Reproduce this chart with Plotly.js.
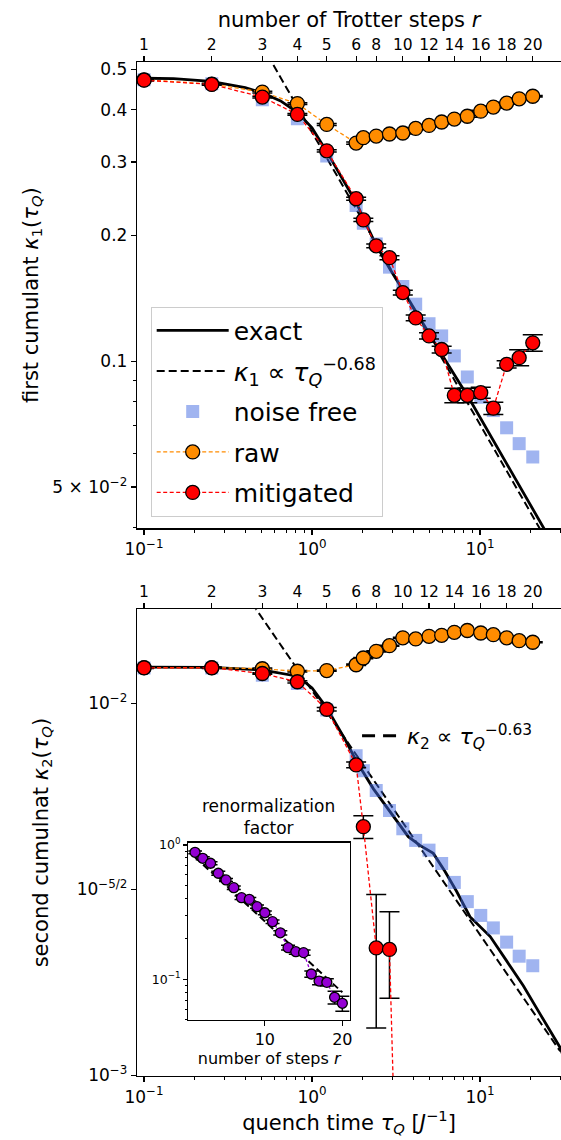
<!DOCTYPE html>
<html>
<head>
<meta charset="utf-8">
<script src="https://cdn.plot.ly/plotly-3.0.1.min.js"></script>
<style>html,body{margin:0;padding:0;background:#fff;overflow:hidden;}#chart{width:561px;height:1140px;}</style>
</head>
<body>
<div id="chart"></div>
<script>
// ---------- data ----------
const rSteps = [1,2,3,4,5,6,7,8,9,10,11,12,13,14,15,16,17,18,19,20];
const tauSteps = [0.1,0.253,0.506,0.818,1.223,1.83,2.02,2.41,2.89,3.47,4.14,4.97,5.91,7.03,8.40,10.1,12.0,14.4,17.1,20.6];
const rTickLabels = [1,2,3,4,5,6,8,10,12,14,16,18,20];

const k1Raw = [0.472,0.461,0.441,0.414,0.369,0.333,0.343,0.346,0.350,0.352,0.361,0.367,0.374,0.380,0.386,0.397,0.406,0.415,0.425,0.431];
const k1RawErr = [0.002,0.002,0.002,0.002,0.002,0.002,0.002,0.002,0.002,0.002,0.002,0.002,0.002,0.002,0.002,0.002,0.002,0.002,0.002,0.002];
const k1Mit = [0.471,0.460,0.429,0.390,0.319,0.245,0.218,0.189,0.177,0.146,0.127,0.115,0.1067,0.0829,0.0829,0.0841,0.0772,0.0983,0.102,0.1107];
const k1MitErr = [0.002,0.002,0.002,0.002,0.002,0.002,0.002,0.002,0.002,0.002,0.002,0.002,0.002,0.0033,0.0033,0.0025,0.0026,0.002,0.0045,0.005];
const k1Free = [0.472,0.462,0.423,0.381,0.310,0.236,0.214,0.191,0.168,0.151,0.137,0.123,0.115,0.103,0.0917,0.082,0.0762,0.0693,0.0635,0.059];
const exactTau1 = [0.1,0.15,0.25,0.4,0.5,0.65,0.82,1.0,1.22,1.5,1.83,2.4,2.89,3.78,5.7,8.72,12.97,19.2,24.0,28];
const exactK1 = [0.476,0.475,0.468,0.452,0.440,0.420,0.394,0.362,0.318,0.276,0.240,0.190,0.167,0.140,0.1064,0.0808,0.0613,0.0466,0.0398,0.0350];
const fitTau1 = [0.5,30];
const fitK1 = [0.574,0.0327];

const k2Raw = [0.01248,0.01248,0.01239,0.0122,0.01225,0.0127,0.01324,0.0138,0.01429,0.0150,0.0149,0.01514,0.01524,0.01552,0.0157,0.01546,0.0153,0.0150,0.01474,0.0146];
const k2RawErr = [0.00005,0.00005,0.00005,0.00005,0.00005,0.00005,0.00005,0.00005,0.00005,0.00005,0.00005,0.00005,0.00005,0.00005,0.00005,0.00005,0.00005,0.00005,0.00005,0.00005];
const k2Mit = [0.01246,0.01246,0.01203,0.01143,0.00964,0.00683,0.00466,0.0022,0.00218,0.00011];
const k2MitErr = [0.00005,0.00005,0.00005,0.00008,0.0001,0.00012,0.00033,0.00086,0.00057,0];
const k2Free = [0.01245,0.01245,0.0119,0.0113,0.0096,0.00723,0.00659,0.00583,0.00515,0.0046,0.00428,0.00403,0.00371,0.0033,0.00293,0.00269,0.00249,0.00228,0.00209,0.00197];
const exactTau2 = [0.1,0.25,0.5,0.82,1.0,1.22,1.57,1.83,2.32,3.12,3.74,4.39,5.27,6.19,7.26,8.71,11.5,14.4,18.1,22.8,29.9,31];
const exactK2 = [0.01252,0.01250,0.01230,0.01183,0.0110,0.00974,0.00801,0.00701,0.00589,0.0049,0.00438,0.00415,0.00395,0.00353,0.00312,0.00267,0.00236,0.00203,0.00174,0.00146,0.00119,0.00114];
const fitTau2 = [0.4,30];
const fitK2 = [0.01976,0.00116];

const renorm = [0.882,0.796,0.731,0.616,0.549,0.481,0.405,0.394,0.3475,0.313,0.2685,0.222,0.172,0.1605,0.158,0.1095,0.0971,0.095,0.0735,0.0663];
const renormErr = [0.02,0.02,0.02,0.02,0.015,0.015,0.012,0.012,0.01,0.01,0.008,0.008,0.007,0.007,0.007,0.006,0.006,0.006,0.008,0.0085];
const renormFitR = [1,20];
const renormFitY = [0.81,0.080];

// ---------- styling ----------
const FONT = 'DejaVu Sans, Liberation Sans, sans-serif';
const ORANGE = '#ff8c00', RED = '#ff0000', PURPLE = '#9400d3', BLUE = 'rgba(65,105,225,0.5)';
const tauTicks = rTickLabels.map(r => tauSteps[rSteps.indexOf(r)]);

function errBar(arr, w) {
  return {type:'data', array:arr, visible:true, color:'black', thickness:1.5, width:w};
}
const mk = (c, s) => ({color:c, size:s, line:{color:'black', width:1.3}});

const traces = [
  // top panel
  {x:exactTau1, y:exactK1, xaxis:'x', yaxis:'y', mode:'lines', name:'exact',
   line:{color:'black', width:2.8}, legendgroup:'a'},
  {x:fitTau1, y:fitK1, xaxis:'x', yaxis:'y', mode:'lines', name:'<i>κ</i><sub>1</sub> ∝ <i>τ</i><sub><i>Q</i></sub><sup>−0.68</sup>',
   line:{color:'black', width:2, dash:'8px,4px'}, legendgroup:'b'},
  {x:tauSteps, y:k1Free, xaxis:'x', yaxis:'y', mode:'markers', name:'noise free',
   marker:{symbol:'square', color:BLUE, size:13, line:{width:0}}, legendgroup:'c'},
  {x:tauSteps, y:k1Raw, xaxis:'x', yaxis:'y', mode:'lines+markers', name:'raw',
   line:{color:ORANGE, width:1.3, dash:'4px,2.5px'}, marker:mk(ORANGE,14), error_y:errBar(k1RawErr,10), legendgroup:'d'},
  {x:tauSteps, y:k1Mit, xaxis:'x', yaxis:'y', mode:'lines+markers', name:'mitigated',
   line:{color:RED, width:1.3, dash:'4px,2.5px'}, marker:mk(RED,14), error_y:errBar(k1MitErr,10), legendgroup:'e'},
  {x:tauSteps, y:k1Raw, xaxis:'x3', yaxis:'y', mode:'markers', marker:{opacity:0}, hoverinfo:'skip', showlegend:false},

  // bottom panel
  {x:exactTau2, y:exactK2, xaxis:'x2', yaxis:'y2', mode:'lines', showlegend:false,
   line:{color:'black', width:2.8}},
  {x:fitTau2, y:fitK2, xaxis:'x2', yaxis:'y2', mode:'lines', showlegend:false,
   line:{color:'black', width:2, dash:'8px,4px'}},
  {x:tauSteps, y:k2Free, xaxis:'x2', yaxis:'y2', mode:'markers', showlegend:false,
   marker:{symbol:'square', color:BLUE, size:13, line:{width:0}}},
  {x:tauSteps, y:k2Raw, xaxis:'x2', yaxis:'y2', mode:'lines+markers', showlegend:false,
   line:{color:ORANGE, width:1.3, dash:'4px,2.5px'}, marker:mk(ORANGE,14), error_y:errBar(k2RawErr,10)},
  {x:tauSteps.slice(0, k2Mit.length), y:k2Mit, xaxis:'x2', yaxis:'y2', mode:'lines+markers', showlegend:false,
   line:{color:RED, width:1.3, dash:'4px,2.5px'}, marker:mk(RED,14), error_y:errBar(k2MitErr,10)},
  {x:tauSteps, y:k2Raw, xaxis:'x4', yaxis:'y2', mode:'markers', marker:{opacity:0}, hoverinfo:'skip', showlegend:false},
  // legend entry of the kappa2 fit (bottom panel)
  {x:[null], y:[null], xaxis:'x2', yaxis:'y2', mode:'lines', legend:'legend2',
   name:'<i>κ</i><sub>2</sub> ∝ <i>τ</i><sub><i>Q</i></sub><sup>−0.63</sup>',
   line:{color:'black', width:3, dash:'13px,8px'}},

  // inset
  {x:renormFitR, y:renormFitY, xaxis:'x5', yaxis:'y5', mode:'lines', showlegend:false,
   line:{color:'black', width:2, dash:'7px,4px'}},
  {x:rSteps, y:renorm, xaxis:'x5', yaxis:'y5', mode:'lines+markers', showlegend:false,
   line:{color:PURPLE, width:1.3, dash:'3px,2.5px'}, marker:mk(PURPLE,10), error_y:errBar(renormErr,7)}
];

const tickFont = {family:FONT, size:17, color:'black'};
const titleFont = {family:FONT, size:21, color:'black'};
const baseAx = {showline:true, linecolor:'black', linewidth:1.2, ticks:'outside', ticklen:5, tickwidth:1.2,
  tickcolor:'black', showgrid:false, zeroline:false, tickfont:tickFont, automargin:false};
const minorLog = {ticks:'outside', ticklen:3, tickwidth:1, tickcolor:'black', dtick:'D1', showgrid:false};
const xRange = [-1.042, 1.482];
const xDecTicks = {tickmode:'array', tickvals:[0.1,1,10], ticktext:['10<sup>−1</sup>','10<sup>0</sup>','10<sup>1</sup>']};
const rAxis = (over, anch, withTitle) => Object.assign({}, baseAx, {
  overlaying:over, anchor:anch, side:'top', type:'log', range:xRange,
  tickmode:'array', tickvals:tauTicks, ticktext:rTickLabels.map(String),
  tickfont:{family:FONT, size:15.5, color:'black'},
  title: withTitle ? {text:'number of Trotter steps <i>r</i>', font:titleFont, standoff:2} : {text:''}
});

const layout = {
  width:561, height:1140,
  margin:{l:137, r:0, t:62, b:64, autoexpand:false},
  paper_bgcolor:'white', plot_bgcolor:'white',
  font:{family:FONT, color:'black'},
  xaxis: Object.assign({}, baseAx, xDecTicks, {domain:[0,1], anchor:'y', type:'log', range:xRange, minor:minorLog}),
  yaxis: Object.assign({}, baseAx, {domain:[0.5401,1], anchor:'x', type:'log', range:[-1.400,-0.2835],
    tickmode:'array', tickvals:[0.05,0.1,0.2,0.3,0.4,0.5],
    ticktext:['5 × 10<sup>−2</sup>','0.1','0.2','0.3','0.4','0.5'], minor:minorLog,
    title:{text:'first cumulant <i>κ</i><sub>1</sub>(<i>τ</i><sub><i>Q</i></sub>)', font:titleFont, standoff:8}}),
  xaxis3: rAxis('x','y',true),
  xaxis2: Object.assign({}, baseAx, xDecTicks, {domain:[0,1], anchor:'y2', type:'log', range:xRange, minor:minorLog,
    title:{text:'quench time <i>τ</i><sub><i>Q</i></sub> [<i>J</i><sup>−1</sup>]', font:titleFont, standoff:9}}),
  yaxis2: Object.assign({}, baseAx, {domain:[0,0.4603], anchor:'x2', type:'log', range:[-3.002,-1.747],
    tickmode:'array', tickvals:[0.001,0.0031623,0.01], ticktext:['10<sup>−3</sup>','10<sup>−5/2</sup>','10<sup>−2</sup>'],
    title:{text:'second cumulnat <i>κ</i><sub>2</sub>(<i>τ</i><sub><i>Q</i></sub>)', font:titleFont, standoff:22}}),
  xaxis4: rAxis('x2','y2',false),
  xaxis5: Object.assign({}, baseAx, {domain:[0.121,0.5024], anchor:'y5', range:[0.135,20.99], mirror:true,
    tickmode:'array', tickvals:[10,20], tickfont:{family:FONT, size:16, color:'black'},
    title:{text:'number of steps <i>r</i>', font:{family:FONT, size:16, color:'black'}, standoff:2}}),
  yaxis5: Object.assign({}, baseAx, {domain:[0.0552,0.2301], anchor:'x5', type:'log', range:[-1.303,0.017], mirror:true,
    tickmode:'array', tickvals:[0.1,1], ticktext:['10<sup>−1</sup>','10<sup>0</sup>'], ticklen:4,
    tickfont:{family:FONT, size:12.5, color:'black'}, minor:Object.assign({}, minorLog, {ticklen:2.5})}),
  showlegend:true,
  legend:{x:0.0323, y:0.7587, xanchor:'left', yanchor:'top', bgcolor:'rgba(255,255,255,0.85)',
    bordercolor:'#cccccc', borderwidth:1, font:{family:FONT, size:25, color:'black'},
    traceorder:'grouped', tracegroupgap:5, itemwidth:72},
  legend2:{x:0.519, y:0.356, xanchor:'left', yanchor:'top', bgcolor:'rgba(255,255,255,0)', borderwidth:0,
    font:{family:FONT, size:22, color:'black'}, itemwidth:40},
  annotations:[
    {text:'renormalization<br>factor', xref:'paper', yref:'paper', x:0.311, y:0.2325, xanchor:'center', yanchor:'bottom',
     showarrow:false, font:{family:FONT, size:17, color:'black'}}
  ]
};

Plotly.newPlot('chart', traces, layout, {displayModeBar:false, staticPlot:true});
</script>
</body>
</html>
